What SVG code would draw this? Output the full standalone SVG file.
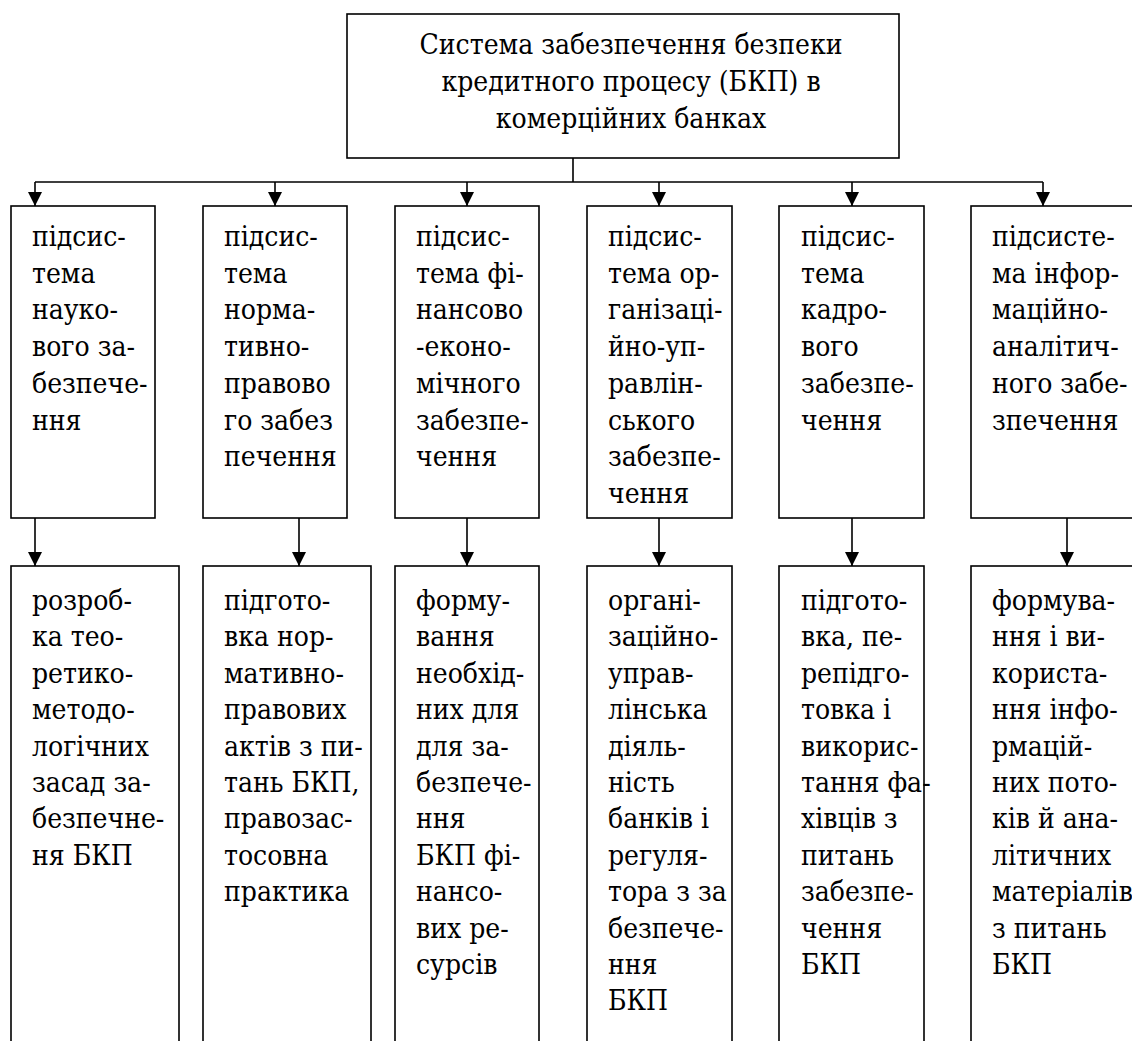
<svg xmlns="http://www.w3.org/2000/svg" width="1132" height="1041" viewBox="0 0 1132 1041">
<style>
.box{fill:#fff;stroke:#000;stroke-width:1.6}
.t{font-family:'DejaVu Serif Condensed','DejaVu Serif',serif;font-stretch:condensed;font-size:28px;fill:#000}
.c{fill:none;stroke:#000;stroke-width:1.6}
</style>
<defs>
<marker id="a" markerUnits="userSpaceOnUse" markerWidth="16" markerHeight="16" viewBox="0 0 16 16" refX="14" refY="8" orient="auto">
<path d="M0,1 L14,8 L0,15 Z" fill="#000"/>
</marker>
</defs>
<rect width="1132" height="1041" fill="#fff"/>
<g id="connectors">
<path class="c" d="M573,158 V182 M35,182 H1043"/>
<path class="c" d="M35,182 V206" marker-end="url(#a)"/>
<path class="c" d="M275,182 V206" marker-end="url(#a)"/>
<path class="c" d="M467,182 V206" marker-end="url(#a)"/>
<path class="c" d="M659,182 V206" marker-end="url(#a)"/>
<path class="c" d="M852,182 V206" marker-end="url(#a)"/>
<path class="c" d="M1043,182 V206" marker-end="url(#a)"/>
<path class="c" d="M35,518 V566" marker-end="url(#a)"/>
<path class="c" d="M299,518 V566" marker-end="url(#a)"/>
<path class="c" d="M467,518 V566" marker-end="url(#a)"/>
<path class="c" d="M659,518 V566" marker-end="url(#a)"/>
<path class="c" d="M852,518 V566" marker-end="url(#a)"/>
<path class="c" d="M1067,518 V566" marker-end="url(#a)"/>
</g>
<g id="root">
<rect class="box" x="347" y="14" width="552" height="144"/>
<text class="t" text-anchor="middle"><tspan x="631" y="54">Система забезпечення безпеки</tspan><tspan x="631" y="91">кредитного процесу (БКП) в</tspan><tspan x="631" y="128">комерційних банках</tspan></text>
</g>
<g id="sub1">
<rect class="box" x="11" y="206" width="144" height="312"/>
<text class="t"><tspan x="32" y="246">підсис-</tspan><tspan x="32" y="282.7">тема</tspan><tspan x="32" y="319.4">науко-</tspan><tspan x="32" y="356.1">вого за-</tspan><tspan x="32" y="392.8">безпече-</tspan><tspan x="32" y="429.5">ння</tspan></text>
</g>
<g id="sub2">
<rect class="box" x="203" y="206" width="144" height="312"/>
<text class="t"><tspan x="224" y="246">підсис-</tspan><tspan x="224" y="282.7">тема</tspan><tspan x="224" y="319.4">норма-</tspan><tspan x="224" y="356.1">тивно-</tspan><tspan x="224" y="392.8">правово</tspan><tspan x="224" y="429.5">го забез</tspan><tspan x="224" y="466.2">печення</tspan></text>
</g>
<g id="sub3">
<rect class="box" x="395" y="206" width="144" height="312"/>
<text class="t"><tspan x="416" y="246">підсис-</tspan><tspan x="416" y="282.7">тема фі-</tspan><tspan x="416" y="319.4">нансово</tspan><tspan x="416" y="356.1">-еконо-</tspan><tspan x="416" y="392.8">мічного</tspan><tspan x="416" y="429.5">забезпе-</tspan><tspan x="416" y="466.2">чення</tspan></text>
</g>
<g id="sub4">
<rect class="box" x="587" y="206" width="145" height="312"/>
<text class="t"><tspan x="608" y="246">підсис-</tspan><tspan x="608" y="282.7">тема ор-</tspan><tspan x="608" y="319.4">ганізаці-</tspan><tspan x="608" y="356.1">йно-уп-</tspan><tspan x="608" y="392.8">равлін-</tspan><tspan x="608" y="429.5">ського</tspan><tspan x="608" y="466.2">забезпе-</tspan><tspan x="608" y="502.9">чення</tspan></text>
</g>
<g id="sub5">
<rect class="box" x="779" y="206" width="145" height="312"/>
<text class="t"><tspan x="801" y="246">підсис-</tspan><tspan x="801" y="282.7">тема</tspan><tspan x="801" y="319.4">кадро-</tspan><tspan x="801" y="356.1">вого</tspan><tspan x="801" y="392.8">забезпе-</tspan><tspan x="801" y="429.5">чення</tspan></text>
</g>
<g id="sub6">
<rect class="box" x="971" y="206" width="200" height="312"/>
<text class="t"><tspan x="992" y="246">підсисте-</tspan><tspan x="992" y="282.7">ма інфор-</tspan><tspan x="992" y="319.4">маційно-</tspan><tspan x="992" y="356.1">аналітич-</tspan><tspan x="992" y="392.8">ного забе-</tspan><tspan x="992" y="429.5">зпечення</tspan></text>
</g>
<g id="task1">
<rect class="box" x="11" y="566" width="168" height="520"/>
<text class="t"><tspan x="32" y="610">розроб-</tspan><tspan x="32" y="646.4">ка тео-</tspan><tspan x="32" y="682.8">ретико-</tspan><tspan x="32" y="719.2">методо-</tspan><tspan x="32" y="755.6">логічних</tspan><tspan x="32" y="792">засад за-</tspan><tspan x="32" y="828.4">безпечне-</tspan><tspan x="32" y="864.8">ня БКП</tspan></text>
</g>
<g id="task2">
<rect class="box" x="203" y="566" width="168" height="520"/>
<text class="t"><tspan x="224" y="610">підгото-</tspan><tspan x="224" y="646.4">вка нор-</tspan><tspan x="224" y="682.8">мативно-</tspan><tspan x="224" y="719.2">правових</tspan><tspan x="224" y="755.6">актів з пи-</tspan><tspan x="224" y="792">тань БКП,</tspan><tspan x="224" y="828.4">правозас-</tspan><tspan x="224" y="864.8">тосовна</tspan><tspan x="224" y="901.2">практика</tspan></text>
</g>
<g id="task3">
<rect class="box" x="395" y="566" width="144" height="520"/>
<text class="t"><tspan x="416" y="610">форму-</tspan><tspan x="416" y="646.4">вання</tspan><tspan x="416" y="682.8">необхід-</tspan><tspan x="416" y="719.2">них для</tspan><tspan x="416" y="755.6">для за-</tspan><tspan x="416" y="792">безпече-</tspan><tspan x="416" y="828.4">ння</tspan><tspan x="416" y="864.8">БКП фі-</tspan><tspan x="416" y="901.2">нансо-</tspan><tspan x="416" y="937.6">вих ре-</tspan><tspan x="416" y="974">сурсів</tspan></text>
</g>
<g id="task4">
<rect class="box" x="587" y="566" width="145" height="520"/>
<text class="t"><tspan x="608" y="610">органі-</tspan><tspan x="608" y="646.4">заційно-</tspan><tspan x="608" y="682.8">управ-</tspan><tspan x="608" y="719.2">лінська</tspan><tspan x="608" y="755.6">діяль-</tspan><tspan x="608" y="792">ність</tspan><tspan x="608" y="828.4">банків і</tspan><tspan x="608" y="864.8">регуля-</tspan><tspan x="608" y="901.2">тора з за</tspan><tspan x="608" y="937.6">безпече-</tspan><tspan x="608" y="974">ння</tspan><tspan x="608" y="1010.4">БКП</tspan></text>
</g>
<g id="task5">
<rect class="box" x="779" y="566" width="145" height="520"/>
<text class="t"><tspan x="801" y="610">підгото-</tspan><tspan x="801" y="646.4">вка, пе-</tspan><tspan x="801" y="682.8">репідго-</tspan><tspan x="801" y="719.2">товка і</tspan><tspan x="801" y="755.6">викорис-</tspan><tspan x="801" y="792">тання фа-</tspan><tspan x="801" y="828.4">хівців з</tspan><tspan x="801" y="864.8">питань</tspan><tspan x="801" y="901.2">забезпе-</tspan><tspan x="801" y="937.6">чення</tspan><tspan x="801" y="974">БКП</tspan></text>
</g>
<g id="task6">
<rect class="box" x="971" y="566" width="200" height="520"/>
<text class="t"><tspan x="992" y="610">формува-</tspan><tspan x="992" y="646.4">ння і ви-</tspan><tspan x="992" y="682.8">користа-</tspan><tspan x="992" y="719.2">ння інфо-</tspan><tspan x="992" y="755.6">рмацій-</tspan><tspan x="992" y="792">них пото-</tspan><tspan x="992" y="828.4">ків й ана-</tspan><tspan x="992" y="864.8">літичних</tspan><tspan x="992" y="901.2">матеріалів</tspan><tspan x="992" y="937.6">з питань</tspan><tspan x="992" y="974">БКП</tspan></text>
</g>
</svg>
